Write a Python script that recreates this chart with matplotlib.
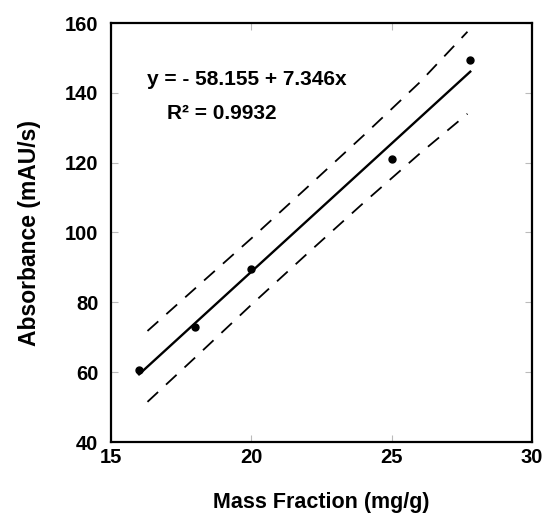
import matplotlib
matplotlib.use('Agg')
import matplotlib.pyplot as plt
import numpy as np

# measured points
mass = [16.0, 18.0, 20.0, 25.0, 27.8]
absorb = [60.5, 73.0, 89.5, 121.0, 149.5]

# regression line
intercept = -58.155
slope = 7.346
fit_x = [16.0, 27.8]

# prediction bands
band_x = [16.3, 18.0, 20.0, 22.0, 24.0, 26.0, 27.7]
band_upper = [71.8, 84.0, 98.3, 113.0, 127.8, 143.0, 157.5]
band_lower = [51.5, 64.2, 79.3, 94.0, 108.5, 122.6, 134.0]

xticks = [15, 20, 25, 30]
yticks = [40, 60, 80, 100, 120, 140, 160]

plt.rcParams['font.family'] = ['Liberation Sans', 'DejaVu Sans']
plt.rcParams['font.weight'] = 'bold'

fig = plt.figure(figsize=(5.44, 5.15), dpi=100)
ax = fig.add_axes([111 / 544, 1 - 442 / 515, 421 / 544, 419 / 515])

fit_y = [intercept + slope * v for v in fit_x]
ax.plot(fit_x, fit_y, color='black', lw=1.7)
ax.plot(band_x, band_upper, color='black', lw=1.3, dashes=(8, 6))
ax.plot(band_x, band_lower, color='black', lw=1.3, dashes=(8, 6))
ax.plot(mass, absorb, 'o', color='black', ms=5)

ax.text(16.3, 143.7, 'y = - 58.155 + 7.346x', fontsize=15, fontweight='bold', va='center')
ax.text(17.0, 134.2, 'R\u00b2 = 0.9932', fontsize=15, fontweight='bold', va='center')

ax.set_xlim(15, 30)
ax.set_ylim(40, 160)
ax.set_xticks(xticks)
ax.set_yticks(yticks)
ax.tick_params(direction='in', length=5, width=0.8, color='#bbbbbb', labelsize=14.5,
               top=True, right=True)
ax.tick_params(axis='x', pad=4)
ax.tick_params(axis='y', pad=9)
for s in ax.spines.values():
    s.set_linewidth(1.6)

ax.set_xlabel('Mass Fraction (mg/g)', fontsize=15.5, fontweight='bold', labelpad=18)
ax.set_ylabel('Absorbance (mAU/s)', fontsize=16.5, fontweight='bold', labelpad=17)

fig.savefig('out.png', dpi=100)
